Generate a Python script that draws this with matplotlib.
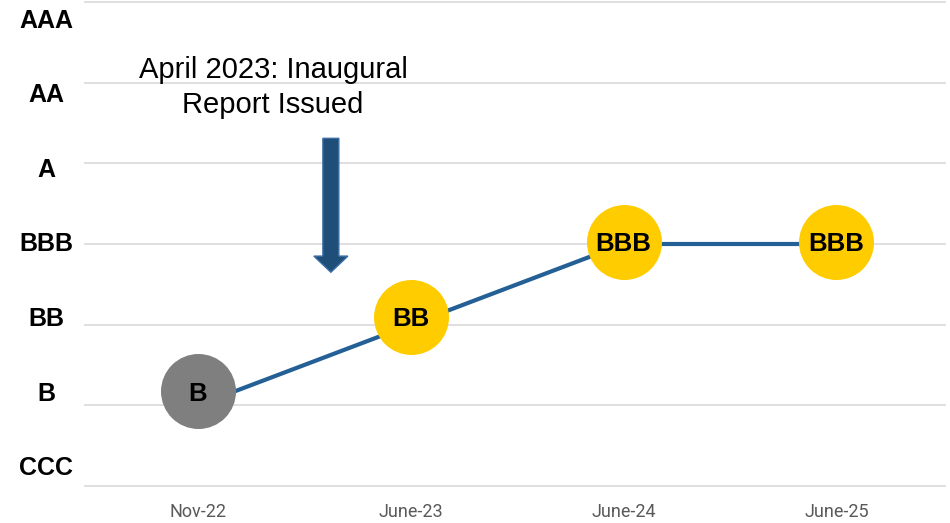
import matplotlib.pyplot as plt
import numpy as np
from matplotlib.patches import FancyArrow

# rating scale, bottom to top
scale = ['CCC', 'B', 'BB', 'BBB', 'A', 'AA', 'AAA']

dates = ['Nov-22', 'June-23', 'June-24', 'June-25']
ratings = ['B', 'BB', 'BBB', 'BBB']

note = 'April 2023: Inaugural\nReport Issued'

line_color = '#245F96'
arrow_color = '#1F4E79'
grid_color = '#D9D9D9'
pre_color = '#7F7F7F'
post_color = '#FFCC00'


def label_pos(i):
    # the rating labels sit on their own even spacing, a bit off the gridlines
    return 0.25 + i * 0.925


fig = plt.figure(figsize=(9.5, 5.23), dpi=100)
ax = fig.add_axes([85 / 950, 37 / 523, 860 / 950, 484 / 523])
ax.set_xlim(-0.53, 3.51)
ax.set_ylim(0, 6)

for s in ax.spines.values():
    s.set_visible(False)

for lv in range(len(scale)):
    ax.axhline(lv, color=grid_color, lw=1.2, zorder=0, clip_on=False)

x = np.arange(len(dates))
levels = [scale.index(r) for r in ratings]
ax.plot(x, levels, color=line_color, lw=3, zorder=2, solid_capstyle='butt')

for i, (xi, r) in enumerate(zip(x, ratings)):
    yc = label_pos(scale.index(r))
    c = pre_color if i == 0 else post_color
    ax.plot(xi, yc, 'o', ms=54, mfc=c, mec='none', zorder=3, clip_on=False)
    ax.text(xi, yc - 0.03, r, ha='center', va='center', fontsize=18.5, fontweight='bold',
            family='Liberation Sans', zorder=4)

ax.set_yticks([label_pos(i) for i in range(len(scale))])
ax.set_yticklabels(scale, fontsize=18, fontweight='bold', family='Liberation Sans',
                   ha='center')
ax.tick_params(axis='y', length=0, pad=28)

ax.set_xticks(x)
ax.set_xticklabels(dates, fontsize=13, family='Roboto', color='#595959')
ax.tick_params(axis='x', length=0, pad=12)

arrow = FancyArrow(0.625, 4.31, 0, -1.66, width=0.075, head_width=0.16,
                   head_length=0.2, length_includes_head=True,
                   fc=arrow_color, ec='#3A6EA5', lw=1, zorder=3)
ax.add_patch(arrow)

ax.text(0.353, 4.94, note, ha='center', va='center', fontsize=21,
        family='Liberation Sans', linespacing=1.3)

fig.savefig('out.png', dpi=100)
